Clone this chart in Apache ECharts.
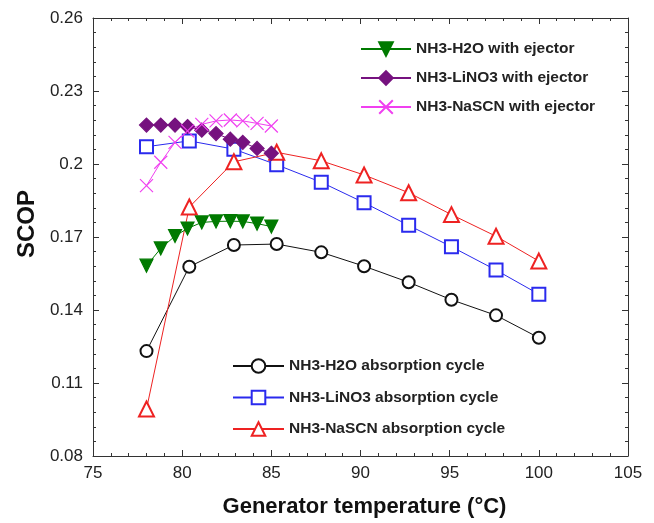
<!DOCTYPE html>
<html>
<head>
<meta charset="utf-8">
<script src="https://cdn.jsdelivr.net/npm/echarts@6/dist/echarts.min.js"></script>
<style>
html,body{margin:0;padding:0;background:#fff;}
#chart{width:654px;height:523px;}
</style>
</head>
<body>
<div id="chart"></div>
<script>
// Generator temperatures (°C)
const tempAbsorption = [78, 80.4, 82.9, 85.3, 87.8, 90.2, 92.7, 95.1, 97.6, 100];
const tempEjector = [78, 78.8, 79.6, 80.3, 81.1, 81.9, 82.7, 83.4, 84.2, 85];

// SCOP values
const h2oAbsorption = [0.1231, 0.1578, 0.1667, 0.1671, 0.1637, 0.1580, 0.1514, 0.1442, 0.1378, 0.1286];
const lino3Absorption = [0.2071, 0.2095, 0.2061, 0.1997, 0.1925, 0.1841, 0.1748, 0.1660, 0.1564, 0.1465];
const nascnAbsorption = [0.0993, 0.1823, 0.2009, 0.2048, 0.2013, 0.1955, 0.1882, 0.1792, 0.1703, 0.1601];
const h2oEjector = [0.1582, 0.1653, 0.1704, 0.1735, 0.1760, 0.1764, 0.1765, 0.1764, 0.1755, 0.1743];
const lino3Ejector = [0.2160, 0.2160, 0.2160, 0.2154, 0.2139, 0.2125, 0.2102, 0.2089, 0.2064, 0.2044];
const nascnEjector = [0.1911, 0.2007, 0.2089, 0.2136, 0.2163, 0.2177, 0.2181, 0.2177, 0.2167, 0.2156];

// Axis settings
const xMin = 75, xMax = 105, xStep = 5;
const yMin = 0.08, yMax = 0.26, yStep = 0.03;

const names = {
  h2oEj: 'NH3-H2O with ejector',
  liEj: 'NH3-LiNO3 with ejector',
  naEj: 'NH3-NaSCN with ejector',
  h2oAb: 'NH3-H2O absorption cycle',
  liAb: 'NH3-LiNO3 absorption cycle',
  naAb: 'NH3-NaSCN absorption cycle'
};

function pairs(xs, ys) { return xs.map((x, i) => [x, ys[i]]); }

const FONT = "'Liberation Sans', Arial, sans-serif";

const chart = echarts.init(document.getElementById('chart'), null, {renderer: 'canvas'});

const baseAxisLine = {show: true, lineStyle: {color: '#333', width: 1}};
const tickStyle = {show: true, inside: true, length: 6, lineStyle: {color: '#333', width: 1}};
const minorStyle = {show: true, splitNumber: 5, length: 3, lineStyle: {color: '#333', width: 1}};

function mkSeries(name, xs, ys, color, symbol, size, extra) {
  return Object.assign({
    name: name,
    type: 'line',
    data: pairs(xs, ys),
    symbol: symbol,
    symbolSize: size,
    showAllSymbol: true,
    lineStyle: {color: color, width: 1},
    itemStyle: {color: color, borderColor: color, borderWidth: 1.2},
    emphasis: {disabled: true},
    animation: false,
    z: 2
  }, extra || {});
}

const xPath = 'path://M0,0L10,10M10,0L0,10';

const legendText = {fontSize: 15.5, fontWeight: 'bold', color: '#222', fontFamily: FONT};

const option = {
  animation: false,
  backgroundColor: '#fff',
  textStyle: {fontFamily: FONT},
  grid: {left: 93, right: 26, top: 18, bottom: 64, containLabel: false},
  xAxis: [{
    type: 'value', min: xMin, max: xMax, interval: xStep, position: 'bottom',
    axisLine: baseAxisLine, axisTick: tickStyle, minorTick: minorStyle,
    splitLine: {show: false},
    axisLabel: {color: '#222', fontSize: 17, fontFamily: FONT, margin: 9},
    name: 'Generator temperature (°C)', nameLocation: 'middle', nameGap: 40,
    nameTextStyle: {color: '#111', fontSize: 22, fontWeight: 'bold', fontFamily: FONT, padding: [0, 0, 0, 8]}
  }, {
    type: 'value', min: xMin, max: xMax, interval: xStep, position: 'top',
    axisLine: baseAxisLine, axisTick: tickStyle, minorTick: minorStyle,
    splitLine: {show: false}, axisLabel: {show: false}
  }],
  yAxis: [{
    type: 'value', min: yMin, max: yMax, interval: yStep, position: 'left',
    axisLine: baseAxisLine, axisTick: tickStyle, minorTick: minorStyle,
    splitLine: {show: false},
    axisLabel: {color: '#222', fontSize: 17, fontFamily: FONT, margin: 10},
    name: 'SCOP', nameLocation: 'middle', nameGap: 50, nameRotate: 90,
    nameTextStyle: {color: '#111', fontSize: 24, fontWeight: 'bold', fontFamily: FONT, padding: [0, 0, 0, 26]}
  }, {
    type: 'value', min: yMin, max: yMax, interval: yStep, position: 'right',
    axisLine: baseAxisLine, axisTick: tickStyle, minorTick: minorStyle,
    splitLine: {show: false}, axisLabel: {show: false}
  }],
  legend: [{
    orient: 'vertical', left: 355, top: 36, itemWidth: 50, itemHeight: 17, itemGap: 13,
    textStyle: legendText,
    data: [names.h2oEj, names.liEj, names.naEj],
    selectedMode: false
  }, {
    orient: 'vertical', left: 227, top: 353, itemWidth: 51, itemHeight: 17, itemGap: 15.5,
    textStyle: legendText,
    data: [names.h2oAb, names.liAb, names.naAb],
    selectedMode: false
  }],
  series: [
    mkSeries(names.h2oAb, tempAbsorption, h2oAbsorption, '#111', 'emptyCircle', 12),
    mkSeries(names.liAb, tempAbsorption, lino3Absorption, '#2a2aee', 'emptyRect', 13),
    mkSeries(names.naAb, tempAbsorption, nascnAbsorption, '#ee2222', 'emptyTriangle', 15),
    mkSeries(names.h2oEj, tempEjector, h2oEjector, '#007a00', 'triangle', 13, {symbolRotate: 180}),
    mkSeries(names.liEj, tempEjector, lino3Ejector, '#76127f', 'diamond', 14),
    mkSeries(names.naEj, tempEjector, nascnEjector, '#f040f0', xPath, 13)
  ]
};

chart.setOption(option);
</script>
</body>
</html>
